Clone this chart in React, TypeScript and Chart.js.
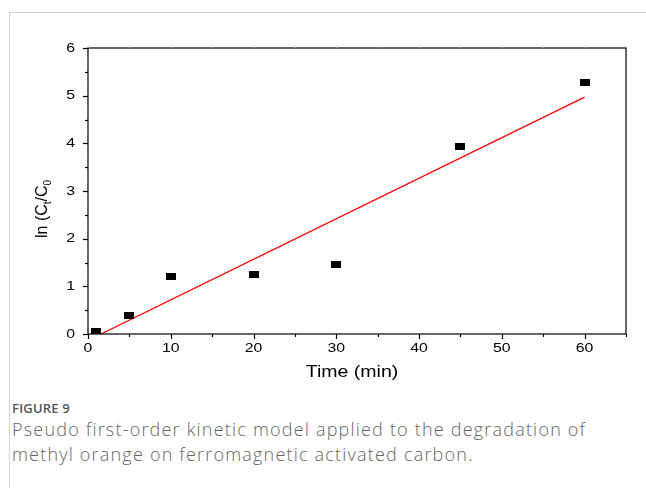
import React, { useEffect, useRef } from "react";
import { Chart, registerables } from "chart.js";

Chart.register(...registerables);

const timeMin = [1, 5, 10, 20, 30, 45, 60];
const lnRatio = [0.05, 0.38, 1.2, 1.25, 1.46, 3.94, 5.28];
const fitX = [1.57, 60];
const fitY = [0, 4.97];
const xMajorTicks = [0, 10, 20, 30, 40, 50, 60];
const yMajorTicks = [0, 1, 2, 3, 4, 5, 6];
const xTitle = "Time (min)";

const FONT = "'Liberation Sans', Arial, Helvetica, sans-serif";
const STRETCH = 1.22;

function makeMarker(): HTMLCanvasElement {
  const c = document.createElement("canvas");
  c.width = 10;
  c.height = 7;
  const ctx = c.getContext("2d")!;
  ctx.fillStyle = "#000";
  ctx.fillRect(0, 0, 10, 7);
  return c;
}

function stretchedText(ctx: CanvasRenderingContext2D, text: string, x: number, y: number, align: CanvasTextAlign) {
  ctx.save();
  ctx.translate(x, y);
  ctx.scale(STRETCH, 1);
  ctx.textAlign = align;
  ctx.fillText(text, 0, 0);
  ctx.restore();
}

const axisPlugin = {
  id: "axisDecor",
  afterDraw(chart: any) {
    const { ctx, chartArea, scales } = chart;
    const xs = scales.x;
    const ys = scales.y;
    ctx.save();
    ctx.strokeStyle = "#000";
    ctx.lineWidth = 1.2;
    ctx.strokeRect(chartArea.left, chartArea.top, chartArea.right - chartArea.left, chartArea.bottom - chartArea.top);
    for (let v = 0; v <= 65; v += 5) {
      const px = Math.round(xs.getPixelForValue(v)) + 0.5;
      const major = v % 10 === 0;
      ctx.beginPath();
      ctx.moveTo(px, chartArea.bottom);
      ctx.lineTo(px, chartArea.bottom + (major ? 5 : 3));
      ctx.stroke();
      ctx.save();
      ctx.strokeStyle = "#bbb";
      ctx.lineWidth = 0.8;
      ctx.beginPath();
      ctx.moveTo(px, chartArea.top);
      ctx.lineTo(px, chartArea.top - 2);
      ctx.stroke();
      ctx.restore();
    }
    for (let v = 0; v <= 6; v += 0.5) {
      const py = Math.round(ys.getPixelForValue(v)) + 0.5;
      const major = Math.abs(v - Math.round(v)) < 1e-9;
      ctx.beginPath();
      ctx.moveTo(chartArea.left, py);
      ctx.lineTo(chartArea.left - (major ? 5 : 3), py);
      ctx.stroke();
    }
    ctx.fillStyle = "#000";
    ctx.font = "13px " + FONT;
    ctx.textBaseline = "middle";
    for (const v of xMajorTicks) {
      stretchedText(ctx, String(v), xs.getPixelForValue(v), chartArea.bottom + 14, "center");
    }
    for (const v of yMajorTicks) {
      stretchedText(ctx, String(v), chartArea.left - 13, ys.getPixelForValue(v), "right");
    }
    ctx.font = "16px " + FONT;
    ctx.textBaseline = "alphabetic";
    stretchedText(ctx, xTitle, (chartArea.left + chartArea.right) / 2 - 5, chartArea.bottom + 43, "center");
    ctx.translate(47, 238);
    ctx.rotate(-Math.PI / 2);
    ctx.textAlign = "left";
    const big = "16px " + FONT;
    const small = "10px " + FONT;
    let x = 0;
    const parts: [string, boolean][] = [["ln (C", false], ["t", true], ["/C", false], ["0", true]];
    for (const [t, sub] of parts) {
      ctx.font = sub ? small : big;
      ctx.fillText(t, x, sub ? 4 : 0);
      x += ctx.measureText(t).width;
    }
    ctx.restore();
  },
};

export default function App() {
  const ref = useRef<HTMLCanvasElement>(null);
  useEffect(() => {
    if (!ref.current) return;
    const marker = makeMarker();
    const chart = new Chart(ref.current, {
      type: "scatter",
      data: {
        datasets: [
          {
            label: "data",
            data: timeMin.map((t, i) => ({ x: t, y: lnRatio[i] })),
            pointStyle: marker as any,
            pointRadius: 5,
            showLine: false,
            backgroundColor: "#000",
            borderColor: "#000",
          },
          {
            label: "fit",
            type: "line",
            data: fitX.map((t, i) => ({ x: t, y: fitY[i] })),
            borderColor: "#ff0000",
            borderWidth: 1.3,
            pointRadius: 0,
            showLine: true,
            fill: false,
          } as any,
        ],
      },
      options: {
        animation: false,
        responsive: false,
        maintainAspectRatio: false,
        layout: { padding: { left: 0, top: 48, right: 20, bottom: 0 } },
        plugins: { legend: { display: false }, tooltip: { enabled: false } },
        scales: {
          x: {
            type: "linear",
            min: 0,
            max: 65,
            afterFit: (s: any) => { s.height = 56; },
            afterBuildTicks: (s: any) => { s.ticks = xMajorTicks.map((v) => ({ value: v })); },
            grid: { display: false, drawTicks: false },
            border: { display: false },
            ticks: { display: false },
          },
          y: {
            type: "linear",
            min: 0,
            max: 6,
            afterFit: (s: any) => { s.width = 88; },
            afterBuildTicks: (s: any) => { s.ticks = yMajorTicks.map((v) => ({ value: v })); },
            grid: { display: false, drawTicks: false },
            border: { display: false },
            ticks: { display: false },
          },
        },
      },
      plugins: [axisPlugin],
    });
    return () => chart.destroy();
  }, []);

  return (
    <div style={{ position: "fixed", left: 0, top: 0, width: 646, height: 488, background: "#fff" }}>
      <div
        style={{
          position: "absolute",
          left: 9,
          top: 12,
          width: 637,
          height: 476,
          borderLeft: "1px solid #d6d6d6",
          borderTop: "1px solid #d6d6d6",
        }}
      />
      <canvas ref={ref} width={646} height={390} style={{ position: "absolute", left: 0, top: 0, width: 646, height: 390 }} />
      <div
        style={{
          position: "absolute",
          left: 12,
          top: 400,
          fontFamily: "'Open Sans', 'Noto Sans', sans-serif",
          color: "#555",
        }}
      >
        <div style={{ fontSize: 13, fontWeight: 600, lineHeight: "16px", letterSpacing: 0.2 }}>FIGURE 9</div>
        <div style={{ fontSize: 18, fontWeight: 300, lineHeight: "25px", color: "#666", marginTop: 1, letterSpacing: 1.2, whiteSpace: "nowrap" }}>
          Pseudo first-order kinetic model applied to the degradation of
          <br />
          methyl orange on ferromagnetic activated carbon.
        </div>
      </div>
    </div>
  );
}
